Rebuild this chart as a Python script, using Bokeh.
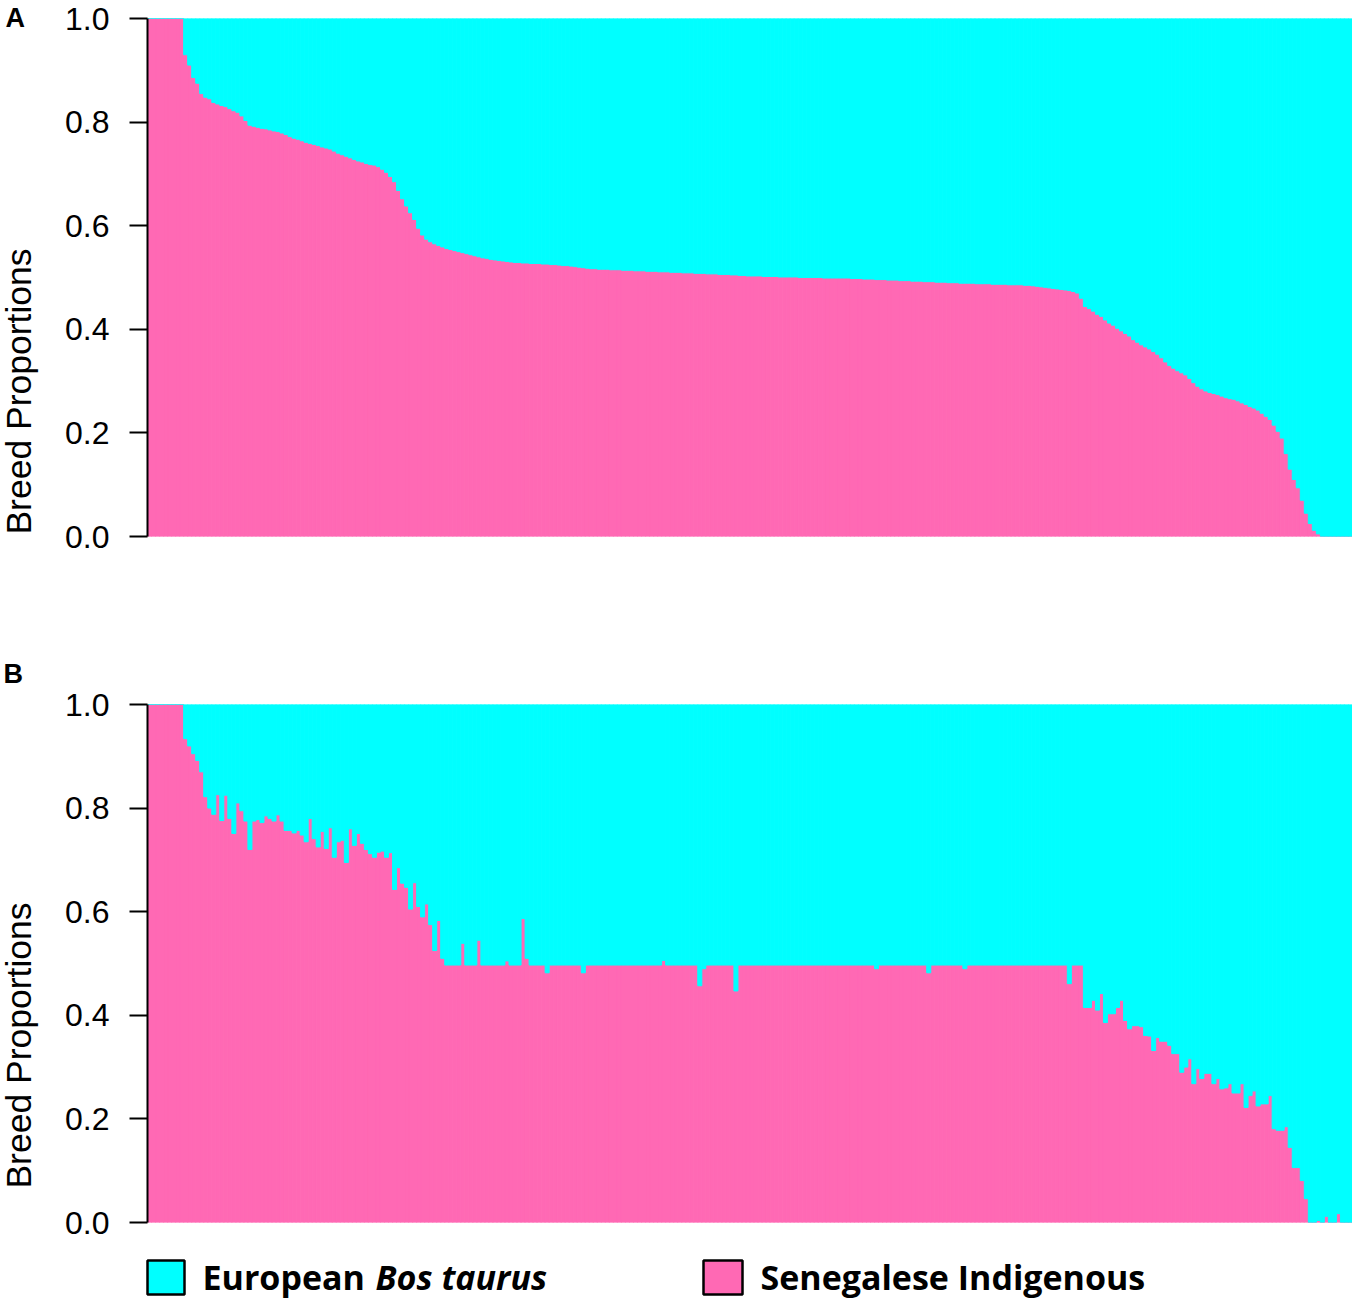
from math import pi
from bokeh.plotting import figure
from bokeh.models import Range1d, FixedTicker, PrintfTickFormatter, ColumnDataSource
from bokeh.layouts import column, row
from bokeh.embed import file_html
from bokeh.resources import INLINE
from bokeh.core.properties import value

# ---------------- data ----------------
series_names = ["Senegalese Indigenous", "European Bos taurus"]
series_colors = ["#FF69B4", "#00FFFF"]
panel_letters = ["A", "B"]
y_ticks = [0.0, 0.2, 0.4, 0.6, 0.8, 1.0]
y_label = "Breed Proportions"

# Senegalese Indigenous proportion per animal (European = 1 - value)
indigenous_A = [
    1.0, 1.0, 1.0, 1.0, 1.0, 1.0, 1.0, 1.0, 1.0, 0.93,
    0.91, 0.886, 0.875, 0.855, 0.848, 0.845, 0.838, 0.835, 0.832, 0.83,
    0.826, 0.822, 0.819, 0.812, 0.803, 0.794, 0.792, 0.79, 0.788, 0.787,
    0.785, 0.783, 0.782, 0.779, 0.776, 0.772, 0.769, 0.767, 0.764, 0.761,
    0.759, 0.757, 0.755, 0.752, 0.75, 0.748, 0.744, 0.74, 0.737, 0.734,
    0.731, 0.728, 0.725, 0.723, 0.72, 0.718, 0.717, 0.714, 0.709, 0.703,
    0.695, 0.685, 0.668, 0.652, 0.638, 0.625, 0.612, 0.595, 0.582, 0.574,
    0.569, 0.565, 0.562, 0.559, 0.556, 0.554, 0.552, 0.55, 0.548, 0.546,
    0.544, 0.542, 0.54, 0.538, 0.537, 0.535, 0.534, 0.533, 0.532, 0.531,
    0.53, 0.529, 0.529, 0.528, 0.528, 0.527, 0.527, 0.527, 0.526, 0.526,
    0.525, 0.525, 0.524, 0.523, 0.523, 0.522, 0.521, 0.52, 0.519, 0.518,
    0.517, 0.517, 0.516, 0.516, 0.516, 0.515, 0.515, 0.515, 0.514, 0.514,
    0.514, 0.513, 0.513, 0.513, 0.512, 0.512, 0.512, 0.511, 0.511, 0.511,
    0.51, 0.51, 0.51, 0.509, 0.509, 0.509, 0.508, 0.508, 0.508, 0.507,
    0.507, 0.507, 0.506, 0.506, 0.506, 0.505, 0.505, 0.504, 0.504, 0.503,
    0.503, 0.503, 0.503, 0.502, 0.502, 0.502, 0.502, 0.501, 0.501, 0.501,
    0.501, 0.501, 0.5, 0.5, 0.5, 0.5, 0.5, 0.5, 0.499, 0.499,
    0.499, 0.499, 0.499, 0.499, 0.499, 0.498, 0.498, 0.498, 0.497, 0.497,
    0.497, 0.496, 0.496, 0.496, 0.495, 0.495, 0.495, 0.494, 0.494, 0.494,
    0.493, 0.493, 0.493, 0.492, 0.492, 0.492, 0.491, 0.491, 0.491, 0.49,
    0.49, 0.49, 0.489, 0.489, 0.489, 0.489, 0.488, 0.488, 0.488, 0.488,
    0.487, 0.487, 0.487, 0.487, 0.486, 0.486, 0.486, 0.486, 0.485, 0.485,
    0.484, 0.483, 0.482, 0.481, 0.48, 0.479, 0.478, 0.477, 0.476, 0.475,
    0.473, 0.47, 0.46, 0.444, 0.44, 0.435, 0.429, 0.425, 0.418, 0.412,
    0.408, 0.402, 0.397, 0.392, 0.387, 0.38, 0.375, 0.37, 0.366, 0.362,
    0.357, 0.352, 0.345, 0.337, 0.33, 0.325, 0.32, 0.316, 0.312, 0.305,
    0.297, 0.29, 0.285, 0.281, 0.278, 0.276, 0.274, 0.271, 0.268, 0.266,
    0.265, 0.262, 0.258, 0.255, 0.251, 0.248, 0.244, 0.238, 0.232, 0.226,
    0.215, 0.203, 0.19, 0.16, 0.13, 0.11, 0.094, 0.07, 0.045, 0.025,
    0.012, 0.005, 0.0, 0.0, 0.0, 0.0, 0.0, 0.0, 0.0, 0.0,
]

indigenous_B = [
    1.0, 1.0, 1.0, 1.0, 1.0, 1.0, 1.0, 1.0, 1.0, 0.934,
    0.92, 0.905, 0.892, 0.87, 0.822, 0.8, 0.788, 0.826, 0.776, 0.825,
    0.78, 0.751, 0.81, 0.795, 0.775, 0.72, 0.775, 0.778, 0.772, 0.785,
    0.78, 0.775, 0.787, 0.775, 0.757, 0.757, 0.752, 0.757, 0.748, 0.735,
    0.78, 0.741, 0.725, 0.755, 0.722, 0.762, 0.705, 0.735, 0.738, 0.695,
    0.76, 0.728, 0.751, 0.732, 0.72, 0.712, 0.705, 0.715, 0.717, 0.705,
    0.714, 0.643, 0.685, 0.655, 0.647, 0.605, 0.656, 0.61, 0.59, 0.615,
    0.575, 0.525, 0.583, 0.51, 0.497, 0.497, 0.497, 0.497, 0.539, 0.497,
    0.497, 0.497, 0.545, 0.497, 0.497, 0.497, 0.497, 0.497, 0.497, 0.505,
    0.497, 0.497, 0.497, 0.587, 0.51, 0.497, 0.497, 0.497, 0.497, 0.482,
    0.497, 0.497, 0.497, 0.497, 0.497, 0.497, 0.497, 0.497, 0.482, 0.497,
    0.497, 0.497, 0.497, 0.497, 0.497, 0.497, 0.497, 0.497, 0.497, 0.497,
    0.497, 0.497, 0.497, 0.497, 0.497, 0.497, 0.497, 0.497, 0.506, 0.497,
    0.497, 0.497, 0.497, 0.497, 0.497, 0.497, 0.497, 0.457, 0.49, 0.497,
    0.497, 0.497, 0.497, 0.497, 0.497, 0.497, 0.447, 0.497, 0.497, 0.497,
    0.497, 0.497, 0.497, 0.497, 0.497, 0.497, 0.497, 0.497, 0.497, 0.497,
    0.497, 0.497, 0.497, 0.497, 0.497, 0.497, 0.497, 0.497, 0.497, 0.497,
    0.497, 0.497, 0.497, 0.497, 0.497, 0.497, 0.497, 0.497, 0.497, 0.497,
    0.497, 0.49, 0.497, 0.497, 0.497, 0.497, 0.497, 0.497, 0.497, 0.497,
    0.497, 0.497, 0.497, 0.497, 0.482, 0.497, 0.497, 0.497, 0.497, 0.497,
    0.497, 0.497, 0.497, 0.49, 0.497, 0.497, 0.497, 0.497, 0.497, 0.497,
    0.497, 0.497, 0.497, 0.497, 0.497, 0.497, 0.497, 0.497, 0.497, 0.497,
    0.497, 0.497, 0.497, 0.497, 0.497, 0.497, 0.497, 0.497, 0.497, 0.461,
    0.497, 0.497, 0.497, 0.415, 0.415, 0.429, 0.41, 0.442, 0.386, 0.403,
    0.403, 0.415, 0.429, 0.39, 0.374, 0.38, 0.38, 0.378, 0.361, 0.36,
    0.332, 0.357, 0.35, 0.35, 0.342, 0.326, 0.326, 0.29, 0.3, 0.316,
    0.268, 0.297, 0.278, 0.288, 0.288, 0.268, 0.278, 0.258, 0.26, 0.268,
    0.25, 0.25, 0.268, 0.222, 0.245, 0.254, 0.225, 0.229, 0.229, 0.245,
    0.181, 0.178, 0.178, 0.185, 0.145, 0.106, 0.106, 0.081, 0.046, 0.0,
    0.0, 0.004, 0.0, 0.012, 0.0, 0.0, 0.017, 0.0, 0.0, 0.0,
]

# ---------------- styling ----------------
AXIS_FONT = "Liberation Sans"
LEGEND_FONT = "Open Sans"
STRIP_W = 47          # left strip holding panel letters + y titles
PANEL_W = 1305        # panel figure width (frame 1205 + 100 border)
PANEL_A_H = 600
PANEL_B_H = 642
LEG_H = 60


def no_align(p):
    try:
        p.frame_align = False
    except Exception:
        pass


def make_panel(vals, height, top, bottom):
    n = len(vals)
    src = ColumnDataSource(dict(
        x=list(range(n)),
        sen=vals,
        eur=[round(1.0 - v, 4) for v in vals],
    ))
    p = figure(width=PANEL_W, height=height, title=None,
               x_range=Range1d(-0.5, n - 0.5), y_range=Range1d(0, 1),
               output_backend="svg", toolbar_location=None,
               min_border_left=100, min_border_right=0,
               min_border_top=top, min_border_bottom=bottom)
    p.vbar_stack(["sen", "eur"], x="x", width=1.0, source=src,
                 fill_color=series_colors, line_color=series_colors,
                 line_width=1)
    p.xaxis.visible = False
    p.xgrid.visible = False
    p.ygrid.visible = False
    p.outline_line_color = None
    ax = p.yaxis[0]
    ax.ticker = FixedTicker(ticks=y_ticks)
    ax.formatter = PrintfTickFormatter(format="%.1f")
    ax.major_tick_out = 18
    ax.major_tick_in = 0
    ax.minor_tick_out = 0
    ax.minor_tick_in = 0
    ax.major_tick_line_width = 2
    ax.major_tick_line_color = "black"
    ax.axis_line_width = 2
    ax.axis_line_color = "black"
    ax.major_label_text_font = AXIS_FONT
    ax.major_label_text_font_size = "32px"
    ax.major_label_text_color = "black"
    ax.major_label_standoff = 20
    return p


pA = make_panel(indigenous_A, PANEL_A_H, 18, 64)
pB = make_panel(indigenous_B, PANEL_B_H, 104, 20)

# ---------------- left strip: panel letters and y titles ----------------
strip_h = PANEL_A_H + PANEL_B_H
strip = figure(width=STRIP_W, height=strip_h, title=None,
               x_range=Range1d(0, STRIP_W), y_range=Range1d(strip_h, 0),
               output_backend="svg", toolbar_location=None, min_border=0)
strip.axis.visible = False
strip.grid.visible = False
strip.outline_line_color = None
no_align(strip)
strip.text(x=[5, 3], y=[17, 673], text=panel_letters,
           text_font=value(AXIS_FONT), text_font_style="bold",
           text_font_size="27px", text_align="left",
           text_baseline="alphabetic", text_color="black")
strip.text(x=[18, 18], y=[391, 1045], text=[y_label, y_label], angle=pi / 2,
           text_font=value(AXIS_FONT), text_font_size="35.5px",
           text_align="center", text_baseline="alphabetic",
           text_color="black")

# ---------------- legend row ----------------
total_w = STRIP_W + PANEL_W
leg = figure(width=total_w, height=LEG_H, title=None,
             x_range=Range1d(0, total_w), y_range=Range1d(LEG_H, 0),
             output_backend="svg", toolbar_location=None, min_border=0)
leg.axis.visible = False
leg.grid.visible = False
leg.outline_line_color = None
no_align(leg)
# European box, Senegalese box (order of legend as in reference)
leg.quad(left=[147, 703], right=[184, 742], top=[18, 18], bottom=[52, 52],
         fill_color=[series_colors[1], series_colors[0]],
         line_color="black", line_width=2.5)
leg.text(x=[202], y=[34], text=["European"], text_font=value(LEGEND_FONT),
         text_font_style="bold", text_font_size="34px",
         text_baseline="alphabetic", text_color="black")
leg.text(x=[375], y=[34], text=["Bos taurus"], text_font=value(LEGEND_FONT),
         text_font_style="bold italic", text_font_size="34px",
         text_baseline="alphabetic", text_color="black")
leg.text(x=[760], y=[34], text=[series_names[0]], text_font=value(LEGEND_FONT),
         text_font_style="bold", text_font_size="34px",
         text_baseline="alphabetic", text_color="black")

layout = column(row(strip, column(pA, pB, spacing=0), spacing=0), leg, spacing=0)
open("out.html", "w").write(file_html(layout, INLINE))
